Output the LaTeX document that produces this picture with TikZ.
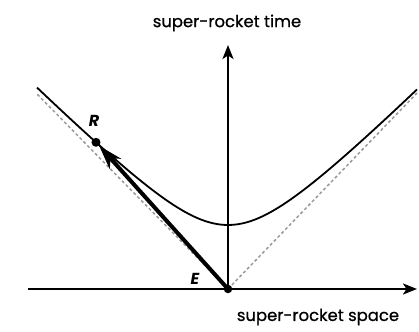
\documentclass[tikz,border=0pt]{standalone}
\usepackage{fontspec}
\setmainfont{Poppins}
\newfontfamily\lblfont{Poppins}[FakeBold=0.8]
\usetikzlibrary{arrows.meta}
\tikzset{
  axis/.style={line width=2.2bp, -{Stealth[length=14bp,width=11bp,inset=3.5bp]}},
  cone/.style={line width=1.5bp, gray!80, dash pattern=on 3bp off 2.5bp},
  curve/.style={line width=1.8bp},
  worldline/.style={line width=4bp, -{Stealth[length=24bp,width=15bp,inset=7bp]}},
  lbl/.style={font=\lblfont\fontsize{16.5}{19}\selectfont, inner sep=0pt},
  ptlbl/.style={font=\fontsize{16}{19}\selectfont\bfseries\itshape, inner sep=0pt},
  dot/.style={circle, fill=black, inner sep=0pt, minimum size=#1}
}
\begin{document}
\begin{tikzpicture}[x=1bp,y=-1bp]
\useasboundingbox (0,0) rectangle (419,332);
% key points
\coordinate (O) at (228,289);
\coordinate (xl) at (28,289);
\coordinate (xr) at (417,289);
\coordinate (yt) at (228,45);
\coordinate (cl) at (37,94);
\coordinate (cr) at (417,93);
% light cone
\draw[cone] (O) -- (cl);
\draw[cone] (O) -- (cr);
% hyperbola
\begin{scope}[shift={(228,289)}, x=10bp, y=10bp]
  \draw[curve] plot[domain=-19.1:18.9, samples=90, smooth] (\x, {sqrt(40.96+\x*\x)});
  \node[dot=9bp] (R) at (-13.2, {sqrt(40.96+174.24)}) {};
\end{scope}
% axes
\draw[axis] (xl) -- (xr);
\draw[axis] (O) -- (yt);
% world line E -> R
\node[dot=8.5bp] (E) at (O) {};
\draw[worldline] (E.center) -- (R);
% labels
\node[lbl] (tlabel) at (227,23) {super-rocket time};
\node[lbl] (slabel) at (318,317) {super-rocket space};
\node[ptlbl] (Rl) at (94,121) {R};
\node[ptlbl] (El) at (195,279) {E};
\end{tikzpicture}
\end{document}
